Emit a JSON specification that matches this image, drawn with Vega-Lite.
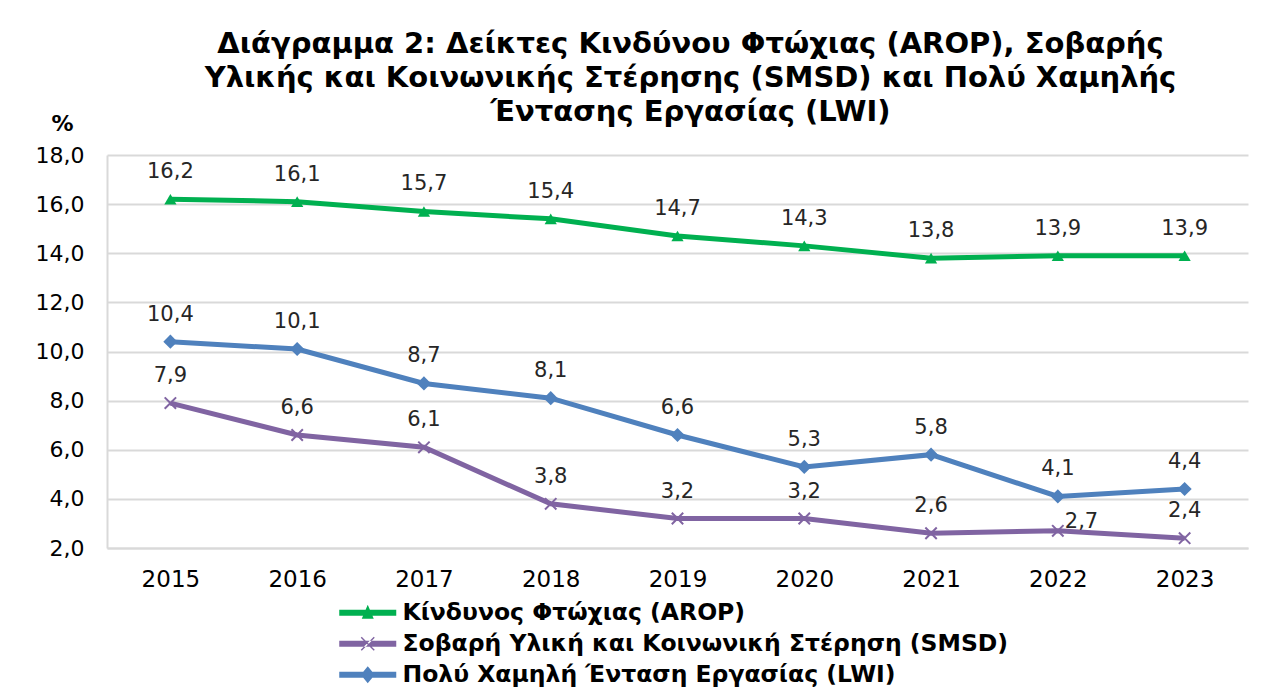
{
  "$schema": "https://vega.github.io/schema/vega-lite/v6.json",
  "width": 1141,
  "height": 393,
  "autosize": {"type": "none"},
  "padding": {"left": 107, "top": 155, "right": 31, "bottom": 140},
  "background": "white",
  "config": {
    "locale": {"number": {"decimal": ",", "thousands": ".", "grouping": [3], "currency": ["", " €"]}},
    "font": "DejaVu Sans",
    "view": {"stroke": null}
  },
  "title": {
    "text": ["Διάγραμμα 2: Δείκτες Κινδύνου Φτώχιας (AROP), Σοβαρής", "Υλικής και Κοινωνικής Στέρησης (SMSD) και Πολύ Χαμηλής", "Έντασης Εργασίας (LWI)"],
    "font": "DejaVu Sans",
    "fontSize": 29,
    "fontWeight": "bold",
    "color": "#000000",
    "anchor": "middle",
    "lineHeight": 34,
    "dx": 13,
    "dy": 15,
    "offset": 0
  },
  "datasets": {
    "d": [
      {"year": "2015", "series": "Κίνδυνος  Φτώχιας (AROP)", "value": 16.2},
      {"year": "2016", "series": "Κίνδυνος  Φτώχιας (AROP)", "value": 16.1},
      {"year": "2017", "series": "Κίνδυνος  Φτώχιας (AROP)", "value": 15.7},
      {"year": "2018", "series": "Κίνδυνος  Φτώχιας (AROP)", "value": 15.4},
      {"year": "2019", "series": "Κίνδυνος  Φτώχιας (AROP)", "value": 14.7},
      {"year": "2020", "series": "Κίνδυνος  Φτώχιας (AROP)", "value": 14.3},
      {"year": "2021", "series": "Κίνδυνος  Φτώχιας (AROP)", "value": 13.8},
      {"year": "2022", "series": "Κίνδυνος  Φτώχιας (AROP)", "value": 13.9},
      {"year": "2023", "series": "Κίνδυνος  Φτώχιας (AROP)", "value": 13.9},
      {"year": "2015", "series": "Σοβαρή Υλική και Κοινωνική Στέρηση (SMSD)", "value": 7.9},
      {"year": "2016", "series": "Σοβαρή Υλική και Κοινωνική Στέρηση (SMSD)", "value": 6.6},
      {"year": "2017", "series": "Σοβαρή Υλική και Κοινωνική Στέρηση (SMSD)", "value": 6.1},
      {"year": "2018", "series": "Σοβαρή Υλική και Κοινωνική Στέρηση (SMSD)", "value": 3.8},
      {"year": "2019", "series": "Σοβαρή Υλική και Κοινωνική Στέρηση (SMSD)", "value": 3.2},
      {"year": "2020", "series": "Σοβαρή Υλική και Κοινωνική Στέρηση (SMSD)", "value": 3.2},
      {"year": "2021", "series": "Σοβαρή Υλική και Κοινωνική Στέρηση (SMSD)", "value": 2.6},
      {"year": "2022", "series": "Σοβαρή Υλική και Κοινωνική Στέρηση (SMSD)", "value": 2.7},
      {"year": "2023", "series": "Σοβαρή Υλική και Κοινωνική Στέρηση (SMSD)", "value": 2.4},
      {"year": "2015", "series": "Πολύ Χαμηλή Ένταση Εργασίας (LWI)", "value": 10.4},
      {"year": "2016", "series": "Πολύ Χαμηλή Ένταση Εργασίας (LWI)", "value": 10.1},
      {"year": "2017", "series": "Πολύ Χαμηλή Ένταση Εργασίας (LWI)", "value": 8.7},
      {"year": "2018", "series": "Πολύ Χαμηλή Ένταση Εργασίας (LWI)", "value": 8.1},
      {"year": "2019", "series": "Πολύ Χαμηλή Ένταση Εργασίας (LWI)", "value": 6.6},
      {"year": "2020", "series": "Πολύ Χαμηλή Ένταση Εργασίας (LWI)", "value": 5.3},
      {"year": "2021", "series": "Πολύ Χαμηλή Ένταση Εργασίας (LWI)", "value": 5.8},
      {"year": "2022", "series": "Πολύ Χαμηλή Ένταση Εργασίας (LWI)", "value": 4.1},
      {"year": "2023", "series": "Πολύ Χαμηλή Ένταση Εργασίας (LWI)", "value": 4.4}
    ]
  },
  "data": {"name": "d"},
  "encoding": {
    "x": {
      "field": "year", "type": "ordinal",
      "scale": {"type": "point", "padding": 0.5},
      "axis": {"title": null, "labelAngle": 0, "labelFont": "DejaVu Sans", "labelFontSize": 23, "labelColor": "#000000", "ticks": false, "domain": true, "domainColor": "#d9d9d9", "domainWidth": 2, "labelPadding": 20, "grid": false}
    },
    "y": {
      "field": "value", "type": "quantitative",
      "scale": {"domain": [2, 18], "nice": false, "zero": false},
      "axis": {
        "values": [2, 4, 6, 8, 10, 12, 14, 16, 18],
        "format": ".1f",
        "title": "%",
        "titleAngle": 0, "titleX": -45, "titleY": -32, "titleAlign": "center", "titleBaseline": "middle",
        "titleFont": "DejaVu Sans", "titleFontSize": 22, "titleFontWeight": "bold", "titleColor": "#000000",
        "labelFont": "DejaVu Sans", "labelFontSize": 22, "labelColor": "#000000", "labelPadding": 23,
        "ticks": false, "domain": true, "domainColor": "#d9d9d9", "domainWidth": 2,
        "grid": true, "gridColor": "#d9d9d9", "gridWidth": 2
      }
    },
    "color": {
      "field": "series", "type": "nominal",
      "scale": {
        "domain": ["Κίνδυνος  Φτώχιας (AROP)", "Σοβαρή Υλική και Κοινωνική Στέρηση (SMSD)", "Πολύ Χαμηλή Ένταση Εργασίας (LWI)"],
        "range": ["#00B050", "#8064A2", "#4F81BD"]
      },
      "legend": null
    }
  },
  "layer": [
    {
      "mark": {"type": "point", "filled": true, "opacity": 0, "size": 10, "strokeWidth": 0},
      "encoding": {
        "color": {"value": "#000000"},
        "fill": {
          "field": "series", "type": "nominal",
          "scale": {
            "domain": ["Κίνδυνος  Φτώχιας (AROP)", "Σοβαρή Υλική και Κοινωνική Στέρηση (SMSD)", "Πολύ Χαμηλή Ένταση Εργασίας (LWI)"],
            "range": ["#00B050", "#8064A2", "#4F81BD"]
          },
          "legend": {
            "title": null, "orient": "none", "legendX": 249, "legendY": 446, "direction": "vertical",
            "labelFont": "DejaVu Sans", "labelFontSize": 23.5, "labelFontWeight": "bold", "labelColor": "#000000",
            "labelOffset": 23, "rowPadding": 6, "labelLimit": 900, "symbolSize": 400, "symbolOpacity": 1, "symbolStrokeWidth": 0
          }
        },
        "shape": {
          "field": "series", "type": "nominal",
          "scale": {
            "domain": ["Κίνδυνος  Φτώχιας (AROP)", "Σοβαρή Υλική και Κοινωνική Στέρηση (SMSD)", "Πολύ Χαμηλή Ένταση Εργασίας (LWI)"],
            "range": [
              "M-2.85,-0.3H2.85V0.3H-2.85Z M0,-0.8L0.6,0.6L-0.6,0.6Z",
              "M-2.85,-0.3H2.85V0.3H-2.85Z M-0.7,-0.6L-0.6,-0.7L0.7,0.6L0.6,0.7Z M-0.7,0.6L-0.6,0.7L0.7,-0.6L0.6,-0.7Z",
              "M-2.85,-0.3H2.85V0.3H-2.85Z M0,-0.85L0.7,0L0,0.85L-0.7,0Z"
            ]
          },
          "legend": {
            "title": null, "orient": "none", "legendX": 249, "legendY": 446, "direction": "vertical",
            "labelFont": "DejaVu Sans", "labelFontSize": 23.5, "labelFontWeight": "bold", "labelColor": "#000000",
            "labelOffset": 23, "rowPadding": 6, "labelLimit": 900, "symbolSize": 400, "symbolOpacity": 1, "symbolStrokeWidth": 0
          }
        }
      }
    },
    {"mark": {"type": "line", "strokeWidth": 5}},
    {
      "transform": [{"filter": "datum.series === 'Κίνδυνος  Φτώχιας (AROP)'"}],
      "mark": {"type": "point", "shape": "triangle-up", "filled": true, "opacity": 1, "size": 150}
    },
    {
      "transform": [{"filter": "datum.series === 'Σοβαρή Υλική και Κοινωνική Στέρηση (SMSD)'"}],
      "mark": {"type": "point", "shape": "M-1,-1L1,1M-1,1L1,-1", "filled": false, "opacity": 1, "size": 130, "strokeWidth": 2, "stroke": "#8064A2"}
    },
    {
      "transform": [{"filter": "datum.series === 'Πολύ Χαμηλή Ένταση Εργασίας (LWI)'"}],
      "mark": {"type": "point", "shape": "diamond", "filled": true, "opacity": 1, "size": 200}
    },
    {
      "transform": [{"filter": "!(datum.series === 'Σοβαρή Υλική και Κοινωνική Στέρηση (SMSD)' && datum.year === '2022')"}],
      "mark": {"type": "text", "dy": -27, "fontSize": 21, "font": "DejaVu Sans", "baseline": "middle"},
      "encoding": {"text": {"field": "value", "type": "quantitative", "format": ".1f"}, "color": {"value": "#262626"}}
    },
    {
      "transform": [{"filter": "datum.series === 'Σοβαρή Υλική και Κοινωνική Στέρηση (SMSD)' && datum.year === '2022'"}],
      "mark": {"type": "text", "dx": 7, "dy": -9, "align": "left", "fontSize": 21, "font": "DejaVu Sans", "baseline": "middle"},
      "encoding": {"text": {"field": "value", "type": "quantitative", "format": ".1f"}, "color": {"value": "#262626"}}
    }
  ]
}
